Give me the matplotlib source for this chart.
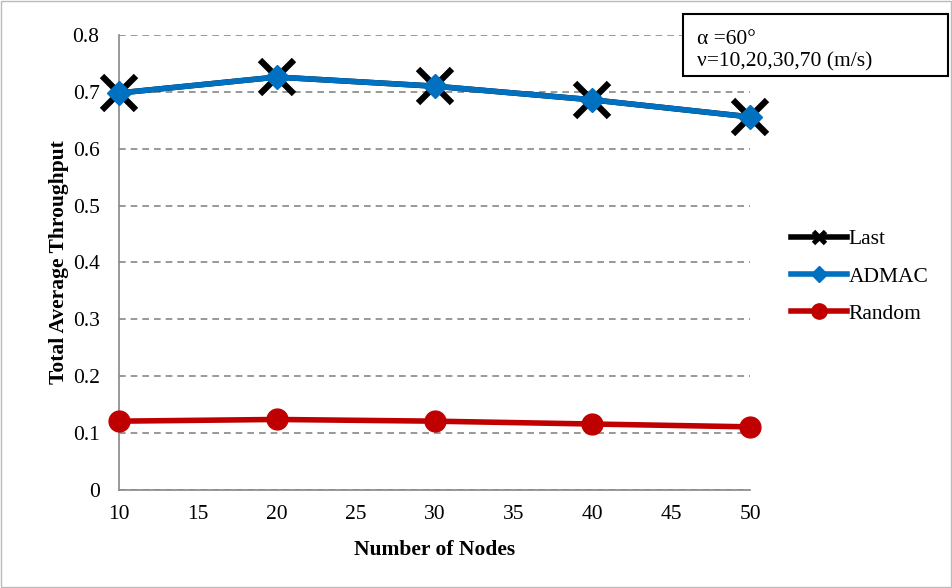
import matplotlib
import matplotlib.pyplot as plt

matplotlib.use("Agg")

nodes = [10, 20, 30, 40, 50]
last = [0.698, 0.726, 0.710, 0.686, 0.656]
admac = [0.698, 0.726, 0.710, 0.686, 0.656]
random_ = [0.121, 0.124, 0.121, 0.116, 0.111]

plt.rcParams["font.family"] = ["Liberation Serif", "DejaVu Serif"]

fig = plt.figure(figsize=(9.53, 5.88), dpi=100)
ax = fig.add_axes([0.1249, 0.1667, 0.787 - 0.1249, 0.9405 - 0.1667])

ax.plot(nodes, last, color="black", linewidth=4, marker="x", markersize=25,
        markeredgewidth=4.5, label="Last", zorder=3, clip_on=False)
ax.plot(nodes, admac, color="#0070C0", linewidth=4, marker="D", markersize=12,
        label="ADMAC", zorder=4, clip_on=False)
ax.plot(nodes, random_, color="#C00000", linewidth=4, marker="o", markersize=15,
        label="Random", zorder=4, clip_on=False)

ax.set_xlim(10, 50)
ax.set_ylim(0, 0.8)
ax.set_xticks(range(10, 51, 5))
ax.set_yticks([i / 10 for i in range(9)])
ax.set_yticklabels(["0"] + [f"{i / 10:.1f}" for i in range(1, 9)])
ax.tick_params(labelsize=15.5, length=0)
ax.tick_params(axis="y", pad=14)
ax.tick_params(axis="x", pad=11)

ax.grid(True, axis="y", linestyle=(0, (4, 3)), color="#888888", linewidth=1.2)
ax.set_axisbelow(True)
for s in ["top", "right"]:
    ax.spines[s].set_visible(False)
for s in ["left", "bottom"]:
    ax.spines[s].set_color("#888888")
    ax.spines[s].set_linewidth(1.2)

ax.set_xlabel("Number of Nodes", fontsize=15.5, fontweight="bold")
ax.set_ylabel("Total Average Throughput", fontsize=15.5, fontweight="bold")
ax.xaxis.set_label_coords(0.5, -0.11)
ax.yaxis.set_label_coords(-0.08, 0.5)

handles, labels = ax.get_legend_handles_labels()
leg = fig.legend(handles, labels, loc="upper left", bbox_to_anchor=(0.81, 0.643),
                 frameon=False, fontsize=15.5, handlelength=2.6, labelspacing=0.8,
                 handletextpad=0.05)
for line, ms, mew in zip(leg.get_lines(), [9, 8, 11], [3.5, 1, 1]):
    line.set_markersize(ms)
    line.set_markeredgewidth(mew)

box = plt.Rectangle((0.7167, 0.8707), 0.2781, 0.1055, transform=fig.transFigure,
                    facecolor="white", edgecolor="black", linewidth=1.5, zorder=10)
fig.patches.append(box)
fig.text(0.731, 0.932, "α =60°", fontsize=15.5, va="center", zorder=11)
fig.text(0.731, 0.8946, "ν=10,20,30,70 (m/s)", fontsize=15.5, va="center", zorder=11)

border = plt.Rectangle((0.001, 0.001), 0.997, 0.997, transform=fig.transFigure,
                       fill=False, edgecolor="#BBBBBB", linewidth=1)
fig.patches.append(border)

fig.savefig("out.png")
plt.close(fig)
